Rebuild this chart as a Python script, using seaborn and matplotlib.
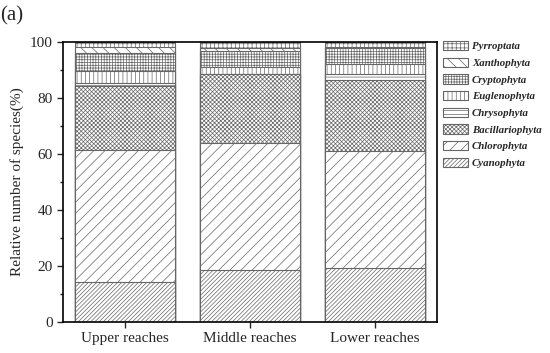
import numpy as np
import pandas as pd
import matplotlib
matplotlib.use("Agg")
import matplotlib.pyplot as plt
from matplotlib.patches import Patch
from matplotlib.ticker import MultipleLocator
import seaborn as sns

# Datos: porcentaje relativo de especies por tramo
reaches = ["Upper reaches", "Middle reaches", "Lower reaches"]
phyla = ["Cyanophyta", "Chlorophyta", "Bacillariophyta", "Chrysophyta",
         "Euglenophyta", "Cryptophyta", "Xanthophyta", "Pyrroptata"]
cyanophyta = [14.2, 18.6, 19.2]
chlorophyta = [47.1, 45.3, 41.9]
bacillariophyta = [22.9, 24.5, 25.5]
chrysophyta = [1.0, 0.3, 2.0]
euglenophyta = [4.6, 2.3, 3.4]
cryptophyta = [6.3, 5.9, 5.8]
xanthophyta = [2.1, 1.0, 0.3]
pyrroptata = [1.8, 2.1, 1.9]

hatches = {
    "Cyanophyta": "////////",
    "Chlorophyta": "///",
    "Bacillariophyta": "xxxxxxxx",
    "Chrysophyta": "----",
    "Euglenophyta": "||||",
    "Cryptophyta": "++++++",
    "Xanthophyta": "\\\\\\",
    "Pyrroptata": "++++",
}

values = [cyanophyta, chlorophyta, bacillariophyta, chrysophyta,
          euglenophyta, cryptophyta, xanthophyta, pyrroptata]
df = pd.DataFrame(np.array(values).T, columns=phyla)
df.insert(0, "reach", reaches)
cum = df[phyla].cumsum(axis=1)

sns.set_style("ticks")
plt.rcParams["font.family"] = ["Liberation Serif", "DejaVu Serif"]
plt.rcParams["hatch.linewidth"] = 0.5

fig = plt.figure(figsize=(5.5, 3.53), dpi=100)
ax = fig.add_axes([0.1145, 0.088, 0.6805, 0.793])

edge = "#666666"
# dibujar de arriba hacia abajo, cada capa tapa la anterior
for name in reversed(phyla):
    n0 = len(ax.patches)
    sns.barplot(x=df["reach"], y=cum[name], color="white", width=0.8,
                edgecolor=edge, linewidth=0.8, ax=ax)
    for p in ax.patches[n0:]:
        p.set_hatch(hatches[name])
        p.set_facecolor("white")

ax.set_xlim(-0.5, 2.5)
ax.set_ylim(0, 100)
ax.yaxis.set_major_locator(MultipleLocator(20))
ax.yaxis.set_minor_locator(MultipleLocator(10))
ax.tick_params(axis="both", direction="out", labelsize=11, width=1, length=4)
ax.tick_params(axis="y", which="minor", length=2.5, width=1)
ax.set_xlabel("")
ax.set_ylabel("Relative number of species(%)", fontsize=11)
for s in ax.spines.values():
    s.set_linewidth(1.2)
    s.set_color("black")

handles = [Patch(facecolor="white", edgecolor=edge, hatch=hatches[n], label=n, linewidth=0.8)
           for n in reversed(phyla)]
leg = ax.legend(handles=handles, loc="upper left", bbox_to_anchor=(1.0, 1.025),
                frameon=False, handlelength=2.3, handleheight=0.95,
                labelspacing=0.58, handletextpad=0.35, borderaxespad=0.15,
                prop={"size": 7.8, "weight": "bold", "style": "italic"})

fig.text(0.0, 0.955, "(a)", fontsize=15, ha="left", va="center")

fig.savefig("out.png", dpi=100)
